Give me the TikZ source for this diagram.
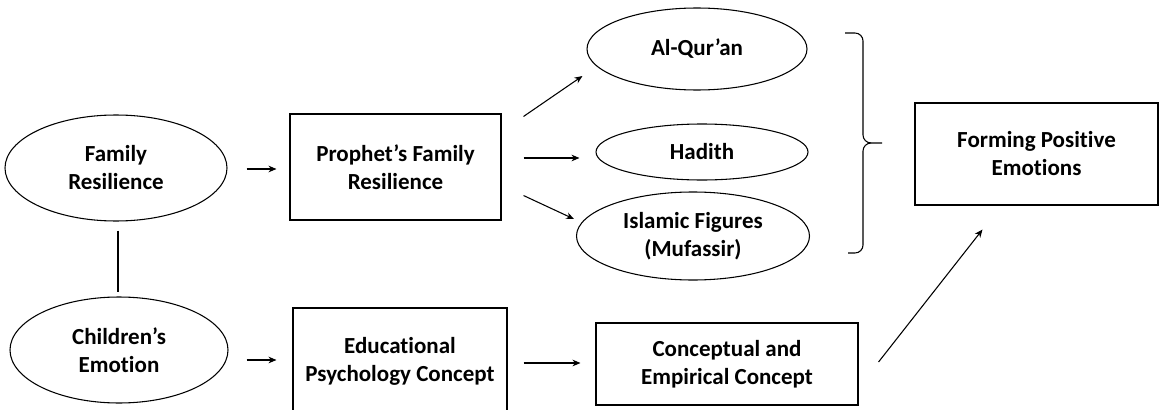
\documentclass[tikz,border=0pt]{standalone}
\usepackage{fontspec}
\setmainfont[Ligatures={NoCommon}]{Carlito}
\usetikzlibrary{shapes.geometric,arrows.meta,calc}
\begin{document}
\begin{tikzpicture}[x=0.75pt,y=-0.75pt,
  every node/.style={font=\fontsize{17.25}{21}\selectfont\bfseries, align=center, inner sep=0pt},
  oval/.style={draw, ellipse, line width=0.8pt},
  box/.style={draw, rectangle, line width=0.8pt},
  arr/.style={-{Stealth[length=6pt,width=5pt]}, line width=0.8pt},
  link/.style={line width=0.8pt}]
\useasboundingbox (0,0) rectangle (1159,410);
\clip (0,0) rectangle (1159,410);

\node[oval, minimum width=166.5pt, minimum height=79.5pt] (fr) at (116,168) {Family\\Resilience};
\node[oval, minimum width=163.5pt, minimum height=79.5pt] (ce) at (119,350) {Children’s\\Emotion};
\node[box, minimum width=158.25pt, minimum height=79.5pt] (pfr) at (395.5,167) {Prophet’s Family\\Resilience};
\node[box, minimum width=160.5pt, minimum height=79.5pt] (epc) at (400,361) {Educational\\Psychology Concept};
\node[oval, minimum width=165pt, minimum height=61.5pt] (aq) at (697,49) {Al-Qur’an};
\node[oval, minimum width=159pt, minimum height=42pt] (hd) at (702,152) {Hadith};
\node[oval, minimum width=174.75pt, minimum height=66pt] (isf) at (693,236) {Islamic Figures\\(Mufassir)};
\node[box, minimum width=196.5pt, minimum height=61.5pt] (cce) at (727,364) {Conceptual and\\Empirical Concept};
\node[box, minimum width=182.25pt, minimum height=76.5pt] (fpe) at (1036.5,154) {Forming Positive\\Emotions};

\draw[link] ($(fr.south)+(2,9)$) -- ($(ce.north)+(-1,-4)$);
\draw[arr] ($(fr.east)+(19,1)$) -- ($(pfr.west)+(-13,2)$);
\draw[arr] ($(ce.east)+(18,10)$) -- ($(epc.west)+(-16,-1)$);
\draw[arr] ($(pfr.north east)+(22,3)$) -- ($(aq.west)+(-4,27)$);
\draw[arr] ($(pfr.east)+(22,-9)$) -- ($(hd.west)+(-16,6)$);
\draw[arr] ($(pfr.south east)+(22,-25)$) -- ($(isf.west)+(-2,-17)$);
\draw[arr] ($(epc.east)+(16,2)$) -- ($(cce.west)+(-15,-1)$);
\draw[arr] ($(cce.east)+(20,-2)$) -- ($(fpe.south)+(-54,24)$);

\draw[link, rounded corners=6] (845,33) -- (863,33) -- (863,143) -- (882,143);
\draw[link, rounded corners=6] (848,253) -- (863,253) -- (863,143) -- (870,143);
\end{tikzpicture}
\end{document}
